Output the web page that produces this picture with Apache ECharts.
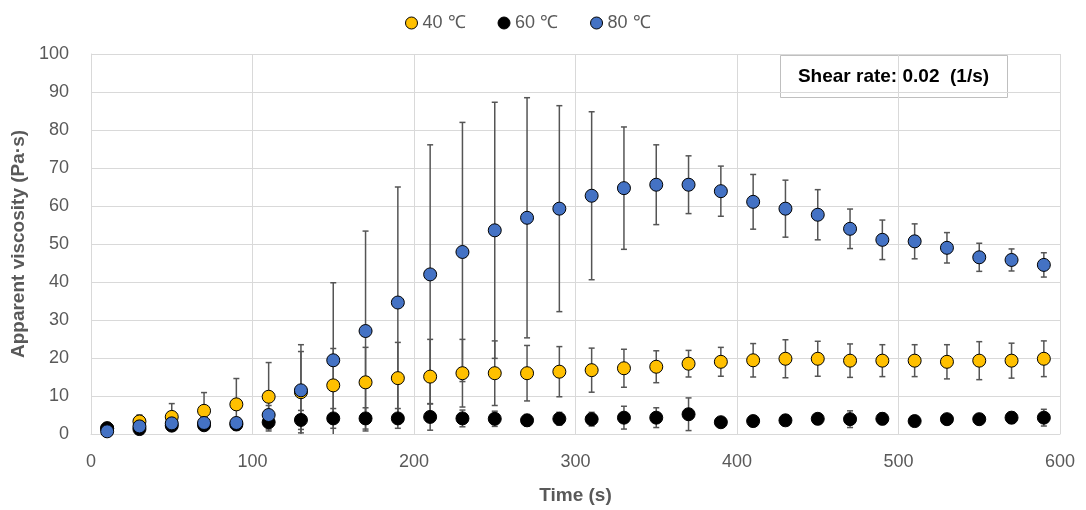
<!DOCTYPE html>
<html>
<head>
<meta charset="utf-8">
<script src="https://cdn.jsdelivr.net/npm/echarts@6/dist/echarts.min.js"></script>
<style>
html,body{margin:0;padding:0;background:#fff;}
#chart{width:1086px;height:510px;}
</style>
</head>
<body>
<div id="chart"></div>
<script>
// ---- data ----
var times = [10,30,50,70,90,110,130,150,170,190,210,230,250,270,290,310,330,350,370,390,410,430,450,470,490,510,530,550,570,590];
var seriesNames = ['40 ℃', '60 ℃', '80 ℃'];
var visc40 = [1.5,3.3,4.5,6.1,7.8,9.8,11.0,12.8,13.6,14.7,15.1,16.0,16.0,16.0,16.4,16.8,17.3,17.7,18.5,19.0,19.4,19.8,19.8,19.3,19.3,19.3,19.0,19.3,19.3,19.8];
var sd40   = [0.3,1.7,3.5,4.8,6.8,9.0,10.7,9.7,9.2,9.4,9.8,8.9,8.5,7.3,6.6,5.8,5.0,4.2,3.5,3.8,4.4,5.0,4.6,4.4,4.2,4.2,4.5,5.0,4.6,4.7];
var visc60 = [1.5,1.3,2.2,2.3,2.5,3.1,3.7,4.1,4.1,4.1,4.5,4.1,4.0,3.6,4.0,3.9,4.3,4.3,5.2,3.1,3.4,3.6,4.0,3.9,4.0,3.4,3.9,3.9,4.3,4.3];
var sd60   = [0.5,0.5,1.0,1.0,1.3,1.8,2.5,2.6,2.8,2.6,3.5,2.2,2.0,1.5,1.7,1.8,3.0,2.6,4.3,0.3,1.0,1.2,1.3,2.2,1.5,0.4,1.0,1.3,1.5,2.2];
var visc80 = [0.7,2.0,2.8,2.9,2.9,5.0,11.5,19.4,27.1,34.6,42.0,47.9,53.6,56.9,59.3,62.7,64.7,65.6,65.6,63.9,61.1,59.3,57.7,54.0,51.1,50.7,49.0,46.5,45.8,44.5];
var sd80   = [0.3,0.5,0.8,1.0,1.2,2.5,12.0,20.4,26.3,30.4,34.1,34.1,33.7,31.6,27.1,22.1,16.1,10.5,7.6,6.6,7.2,7.5,6.6,5.2,5.2,4.6,4.0,3.7,2.9,3.2];
var colors = ['#FFC000', '#000000', '#4472C4'];
var xTitle = 'Time (s)';
var yTitle = 'Apparent viscosity (Pa·s)';
var noteText = 'Shear rate: 0.02  (1/s)';

// ---- build ----
var FONT = '"Liberation Sans", Arial, sans-serif';
var values = [visc40, visc60, visc80];
var sds = [sd40, sd60, sd80];

function errData(v, s) {
  return times.map(function (t, i) { return [t, v[i] - s[i], v[i] + s[i]]; });
}
function renderErr(params, api) {
  var x = api.value(0);
  var lo = api.coord([x, api.value(1)]);
  var hi = api.coord([x, api.value(2)]);
  var cap = 3;
  var style = { stroke: '#555555', lineWidth: 1.5 };
  return {
    type: 'group',
    children: [
      { type: 'line', shape: { x1: lo[0], y1: lo[1], x2: hi[0], y2: hi[1] }, style: style },
      { type: 'line', shape: { x1: lo[0] - cap, y1: lo[1], x2: lo[0] + cap, y2: lo[1] }, style: style },
      { type: 'line', shape: { x1: hi[0] - cap, y1: hi[1], x2: hi[0] + cap, y2: hi[1] }, style: style }
    ]
  };
}

var series = [];
for (var k = 0; k < 3; k++) {
  series.push({
    type: 'custom',
    name: seriesNames[k] + ' err',
    renderItem: renderErr,
    data: errData(values[k], sds[k]),
    encode: { x: 0, y: [1, 2] },
    clip: true,
    z: 1,
    silent: true
  });
}
for (var k2 = 0; k2 < 3; k2++) {
  series.push({
    type: 'scatter',
    name: seriesNames[k2],
    data: times.map(function (t, i) { return [t, values[k2][i]]; }),
    symbol: 'circle',
    symbolSize: 13,
    itemStyle: { color: colors[k2], borderColor: '#000', borderWidth: 1, opacity: 1 },
    z: 5 + k2
  });
}

var chart = echarts.init(document.getElementById('chart'), null, { renderer: 'canvas' });
chart.setOption({
  animation: false,
  backgroundColor: '#fff',
  textStyle: { fontFamily: FONT },
  legend: {
    data: seriesNames.map(function (n, i) {
      return { name: n, icon: 'circle', itemStyle: { color: colors[i], borderColor: '#000', borderWidth: 1 } };
    }),
    top: 9,
    left: 400,
    itemWidth: 12,
    itemHeight: 12,
    itemGap: 32,
    textStyle: { fontSize: 18, color: '#595959', fontFamily: FONT }
  },
  grid: { left: 91, right: 26, top: 54, bottom: 75, containLabel: false },
  xAxis: {
    type: 'value',
    min: 0, max: 600, interval: 100,
    name: xTitle,
    nameLocation: 'middle',
    nameGap: 52,
    nameTextStyle: { fontSize: 19, fontWeight: 'bold', color: '#595959', fontFamily: FONT },
    axisLine: { show: true, lineStyle: { color: '#d9d9d9', width: 1 } },
    axisTick: { show: false },
    axisLabel: { fontSize: 18, color: '#595959', margin: 19, fontFamily: FONT },
    splitLine: { show: true, lineStyle: { color: '#d9d9d9', width: 1 } }
  },
  yAxis: {
    type: 'value',
    min: 0, max: 100, interval: 10,
    name: yTitle,
    nameLocation: 'middle',
    nameGap: 56,
    nameTextStyle: { fontSize: 19, fontWeight: 'bold', color: '#595959', fontFamily: FONT },
    axisLine: { show: true, lineStyle: { color: '#d9d9d9', width: 1 } },
    axisTick: { show: false },
    axisLabel: { fontSize: 18, color: '#595959', margin: 22, fontFamily: FONT },
    splitLine: { show: true, lineStyle: { color: '#d9d9d9', width: 1 } }
  },
  graphic: [{
    type: 'group',
    left: 780,
    top: 55,
    z: 100,
    children: [
      { type: 'rect', shape: { x: 0, y: 0, width: 227, height: 42 },
        style: { fill: '#fff', stroke: '#bfbfbf', lineWidth: 1 } },
      { type: 'text', x: 113, y: 21,
        style: { text: noteText, fill: '#000', fontSize: 19, fontWeight: 'bold', fontFamily: FONT,
                 align: 'center', verticalAlign: 'middle' } }
    ]
  }],
  series: series
});
</script>
</body>
</html>
